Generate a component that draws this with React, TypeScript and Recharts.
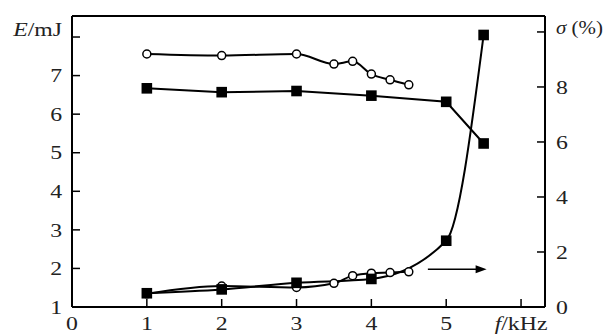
import React from "react";
import { LineChart, Line, XAxis, YAxis, ReferenceLine } from "recharts";

// Frequencies (kHz)
const freqCircles = [1, 2, 3, 3.5, 3.75, 4, 4.25, 4.5];
const freqSquares = [1, 2, 3, 4, 5, 5.5];

// Energy E (mJ), left axis
const eCircles = [7.56, 7.52, 7.56, 7.3, 7.37, 7.04, 6.89, 6.76];
const eSquares = [6.67, 6.57, 6.6, 6.48, 6.32, 5.24];

// Instability sigma (%), right axis
const sigmaCircles = [0.48, 0.76, 0.71, 0.86, 1.14, 1.23, 1.25, 1.28];
const sigmaSquares = [0.5, 0.64, 0.88, 1.02, 2.41, 9.89];

// Axis ticks
const xTicks = [0, 1, 2, 3, 4, 5, 6];
const eTicks = [1, 2, 3, 4, 5, 6, 7, 8];
const sigmaTicks = [0, 2, 4, 6, 8, 10];

const X_DOMAIN: [number, number] = [0, 6.32];
const E_DOMAIN: [number, number] = [1, 8.545];
const S_DOMAIN: [number, number] = [0, 10.58];

// Arrow annotation (pointing to right axis)
const arrowFrom = { f: 4.755, s: 1.37 };
const arrowTo = { f: 5.54, s: 1.37 };

const circleData = freqCircles.map((f, i) => ({ f, e: eCircles[i], s: sigmaCircles[i] }));
const squareData = freqSquares.map((f, i) => ({ f, e: eSquares[i], s: sigmaSquares[i] }));

const FONT = "'Liberation Serif', 'Times New Roman', serif";
const FS = 19;
const SX = 1.25;

const SquareDot = (props: any) => {
  const { cx, cy } = props;
  if (cx == null || cy == null) return null;
  return <rect x={cx - 5.3} y={cy - 5.3} width={10.6} height={10.6} fill="#000" />;
};

const circleDot = { r: 4, fill: "#fff", stroke: "#000", strokeWidth: 1.5 };

const Txt = ({ x, y, anchor, dy, sx = SX, children }: any) => (
  <g transform={`translate(${x},${y}) scale(${sx},1)`}>
    <text x={0} y={0} dy={dy} textAnchor={anchor} fontFamily={FONT} fontSize={FS} fill="#222">
      {children}
    </text>
  </g>
);

const LeftTick = (props: any) => {
  const { x, y, payload } = props;
  if (payload.value === 8) {
    return (
      <Txt x={x} y={y - 8} anchor="end" dy="0.355em">
        <tspan fontStyle="italic">E</tspan>/mJ
      </Txt>
    );
  }
  return (
    <Txt x={x} y={y} anchor="end" dy="0.355em">
      {payload.value}
    </Txt>
  );
};

const RightTick = (props: any) => {
  const { x, y, payload } = props;
  if (payload.value === 10) {
    return (
      <Txt x={x} y={y - 5} anchor="start" dy="0.355em" sx={1.1}>
        <tspan fontStyle="italic">σ</tspan> (%)
      </Txt>
    );
  }
  return (
    <Txt x={x} y={y} anchor="start" dy="0.355em">
      {payload.value}
    </Txt>
  );
};

const BottomTick = (props: any) => {
  const { x, y, payload } = props;
  if (payload.value === 6) {
    return (
      <Txt x={x} y={y} anchor="middle" dy="0.71em">
        <tspan fontStyle="italic">f</tspan>/kHz
      </Txt>
    );
  }
  return (
    <Txt x={x} y={y} anchor="middle" dy="0.71em">
      {payload.value}
    </Txt>
  );
};

const ArrowShape = (props: any) => {
  const { x1, y1, x2, y2 } = props;
  if (x1 == null) return null;
  return (
    <g>
      <line x1={x1} y1={y1} x2={x2 - 6} y2={y2} stroke="#000" strokeWidth={1.6} />
      <polygon points={`${x2},${y2} ${x2 - 11},${y2 - 4} ${x2 - 11},${y2 + 4}`} fill="#000" />
    </g>
  );
};

export default function App() {
  return (
    <div style={{ position: "absolute", left: 0, top: 0, background: "#fff" }}>
      <LineChart width={605} height={335} margin={{ top: 16, right: 0, bottom: 0, left: 0 }}>
        <XAxis
          dataKey="f"
          type="number"
          domain={X_DOMAIN}
          ticks={xTicks}
          allowDataOverflow
          height={28}
          stroke="#000"
          axisLine={{ stroke: "#000", strokeWidth: 2 }}
          tickLine={{ stroke: "#000", strokeWidth: 1.5 }}
          tickSize={-8}
          tickMargin={17.5}
          tick={<BottomTick />}
          interval={0}
        />
        <YAxis
          yAxisId="e"
          orientation="left"
          type="number"
          domain={E_DOMAIN}
          ticks={eTicks}
          allowDataOverflow
          width={72}
          axisLine={{ stroke: "#000", strokeWidth: 2 }}
          tickLine={{ stroke: "#000", strokeWidth: 1.5 }}
          tickSize={-8}
          tickMargin={18}
          tick={<LeftTick />}
          interval={0}
        />
        <YAxis
          yAxisId="s"
          orientation="right"
          type="number"
          domain={S_DOMAIN}
          ticks={sigmaTicks}
          allowDataOverflow
          width={60}
          axisLine={{ stroke: "#000", strokeWidth: 2 }}
          tickLine={{ stroke: "#000", strokeWidth: 1.5 }}
          tickSize={-8}
          tickMargin={19}
          tick={<RightTick />}
          interval={0}
        />
        <ReferenceLine yAxisId="e" y={E_DOMAIN[1]} stroke="#000" strokeWidth={2} />
        <ReferenceLine
          yAxisId="s"
          segment={[
            { x: arrowFrom.f, y: arrowFrom.s },
            { x: arrowTo.f, y: arrowTo.s },
          ]}
          shape={<ArrowShape />}
        />
        <Line
          yAxisId="e"
          data={circleData}
          dataKey="e"
          type="monotone"
          stroke="#000"
          strokeWidth={2}
          dot={circleDot}
          activeDot={false}
          isAnimationActive={false}
        />
        <Line
          yAxisId="s"
          data={circleData}
          dataKey="s"
          type="monotone"
          stroke="#000"
          strokeWidth={2}
          dot={circleDot}
          activeDot={false}
          isAnimationActive={false}
        />
        <Line
          yAxisId="e"
          data={squareData}
          dataKey="e"
          type="linear"
          stroke="#000"
          strokeWidth={2}
          dot={<SquareDot />}
          activeDot={false}
          isAnimationActive={false}
        />
        <Line
          yAxisId="s"
          data={squareData}
          dataKey="s"
          type="monotone"
          stroke="#000"
          strokeWidth={2}
          dot={<SquareDot />}
          activeDot={false}
          isAnimationActive={false}
        />
      </LineChart>
    </div>
  );
}
